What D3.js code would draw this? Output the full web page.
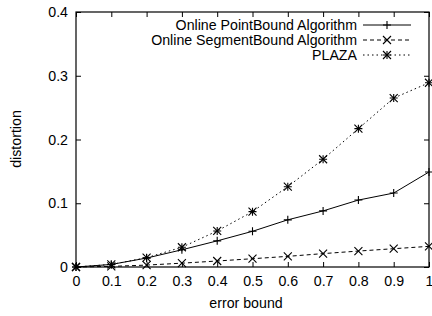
<!DOCTYPE html>
<html lang="en">
<head>
<meta charset="utf-8">
<script src="https://d3js.org/d3.v7.min.js"></script>
<style>
body { margin: 0; background: #fff; }
svg text { font-family: "Liberation Sans", Arial, sans-serif; font-size: 14.2px; fill: #000; }
</style>
</head>
<body>
<script>
var xs = [0, 0.1, 0.2, 0.3, 0.4, 0.5, 0.6, 0.7, 0.8, 0.9, 1];
var pointBound = [0, 0.004, 0.014, 0.027, 0.041, 0.056, 0.074, 0.088, 0.105, 0.116, 0.149];
var segmentBound = [0, 0.001, 0.003, 0.006, 0.0094, 0.013, 0.0167, 0.021, 0.025, 0.0287, 0.0324];
var plaza = [0, 0.004, 0.0146, 0.031, 0.0565, 0.0868, 0.126, 0.169, 0.217, 0.265, 0.289];
var xTicks = [0, 0.1, 0.2, 0.3, 0.4, 0.5, 0.6, 0.7, 0.8, 0.9, 1];
var yTicks = [0, 0.1, 0.2, 0.3, 0.4];
var seriesNames = ["Online PointBound Algorithm", "Online SegmentBound Algorithm", "PLAZA"];

var W = 432, H = 316;
var mLeft = 76, mRight = 429, mTop = 12, mBottom = 267;

var svg = d3.select("body").append("svg").attr("width", W).attr("height", H);

var x = d3.scaleLinear().domain([0, 1]).range([mLeft, mRight]);
var y = d3.scaleLinear().domain([0, 0.4]).range([mBottom, mTop]);

var fmt = function(d) { return d === 0 ? "0" : d === 1 ? "1" : d3.format(".1f")(d); };

// axes with inward ticks on all four sides
svg.append("g").attr("transform", "translate(0," + mBottom + ")")
    .call(d3.axisBottom(x).tickValues(xTicks).tickSizeInner(-5).tickSizeOuter(0).tickPadding(9).tickFormat(fmt))
    .call(function(g) { g.select(".domain").remove(); });
svg.append("g").attr("transform", "translate(0," + mTop + ")")
    .call(d3.axisTop(x).tickValues(xTicks).tickSizeInner(-5).tickSizeOuter(0).tickFormat(""))
    .call(function(g) { g.select(".domain").remove(); });
svg.append("g").attr("transform", "translate(" + mLeft + ",0)")
    .call(d3.axisLeft(y).tickValues(yTicks).tickSizeInner(-5).tickSizeOuter(0).tickPadding(8).tickFormat(fmt))
    .call(function(g) { g.select(".domain").remove(); });
svg.append("g").attr("transform", "translate(" + mRight + ",0)")
    .call(d3.axisRight(y).tickValues(yTicks).tickSizeInner(-5).tickSizeOuter(0).tickFormat(""))
    .call(function(g) { g.select(".domain").remove(); });

svg.append("rect").attr("x", mLeft).attr("y", mTop).attr("width", mRight - mLeft).attr("height", mBottom - mTop)
    .attr("fill", "none").attr("stroke", "#000").attr("stroke-width", 1.2);

svg.append("text").attr("x", 246).attr("y", 308).attr("text-anchor", "middle").text("error bound");
svg.append("text").attr("transform", "translate(21,139) rotate(-90)").attr("text-anchor", "middle").text("distortion");

function plus(g, cx, cy, s) {
    g.append("path").attr("d", "M" + (cx - s) + "," + cy + "H" + (cx + s) + "M" + cx + "," + (cy - s) + "V" + (cy + s));
}
function cross(g, cx, cy, s) {
    g.append("path").attr("d", "M" + (cx - s) + "," + (cy - s) + "L" + (cx + s) + "," + (cy + s) + "M" + (cx - s) + "," + (cy + s) + "L" + (cx + s) + "," + (cy - s));
}
function star(g, cx, cy, s) { plus(g, cx, cy, s); cross(g, cx, cy, s); }

var series = [
    { vals: pointBound, dash: null, mark: plus },
    { vals: segmentBound, dash: "4,3", mark: cross },
    { vals: plaza, dash: "1.5,3", mark: star }
];

var line = d3.line().x(function(d) { return x(d[0]); }).y(function(d) { return y(d[1]); });

series.forEach(function(s, i) {
    var pts = xs.map(function(v, j) { return [v, s.vals[j]]; });
    svg.append("path").datum(pts).attr("d", line).attr("fill", "none").attr("stroke", "#000")
        .attr("stroke-width", 1).attr("stroke-dasharray", s.dash);
    var mg = svg.append("g").attr("stroke", "#000").attr("stroke-width", 1.1).attr("fill", "none");
    pts.forEach(function(p) { s.mark(mg, x(p[0]), y(p[1]), 4); });

    // legend
    var ly = 25 + i * 15;
    svg.append("text").attr("x", 357).attr("y", ly + 5).attr("text-anchor", "end").text(seriesNames[i]);
    svg.append("line").attr("x1", 363).attr("x2", 411).attr("y1", ly).attr("y2", ly)
        .attr("stroke", "#000").attr("stroke-width", 1).attr("stroke-dasharray", s.dash);
    var lg = svg.append("g").attr("stroke", "#000").attr("stroke-width", 1.1).attr("fill", "none");
    s.mark(lg, 387, ly, 4);
});
</script>
</body>
</html>
